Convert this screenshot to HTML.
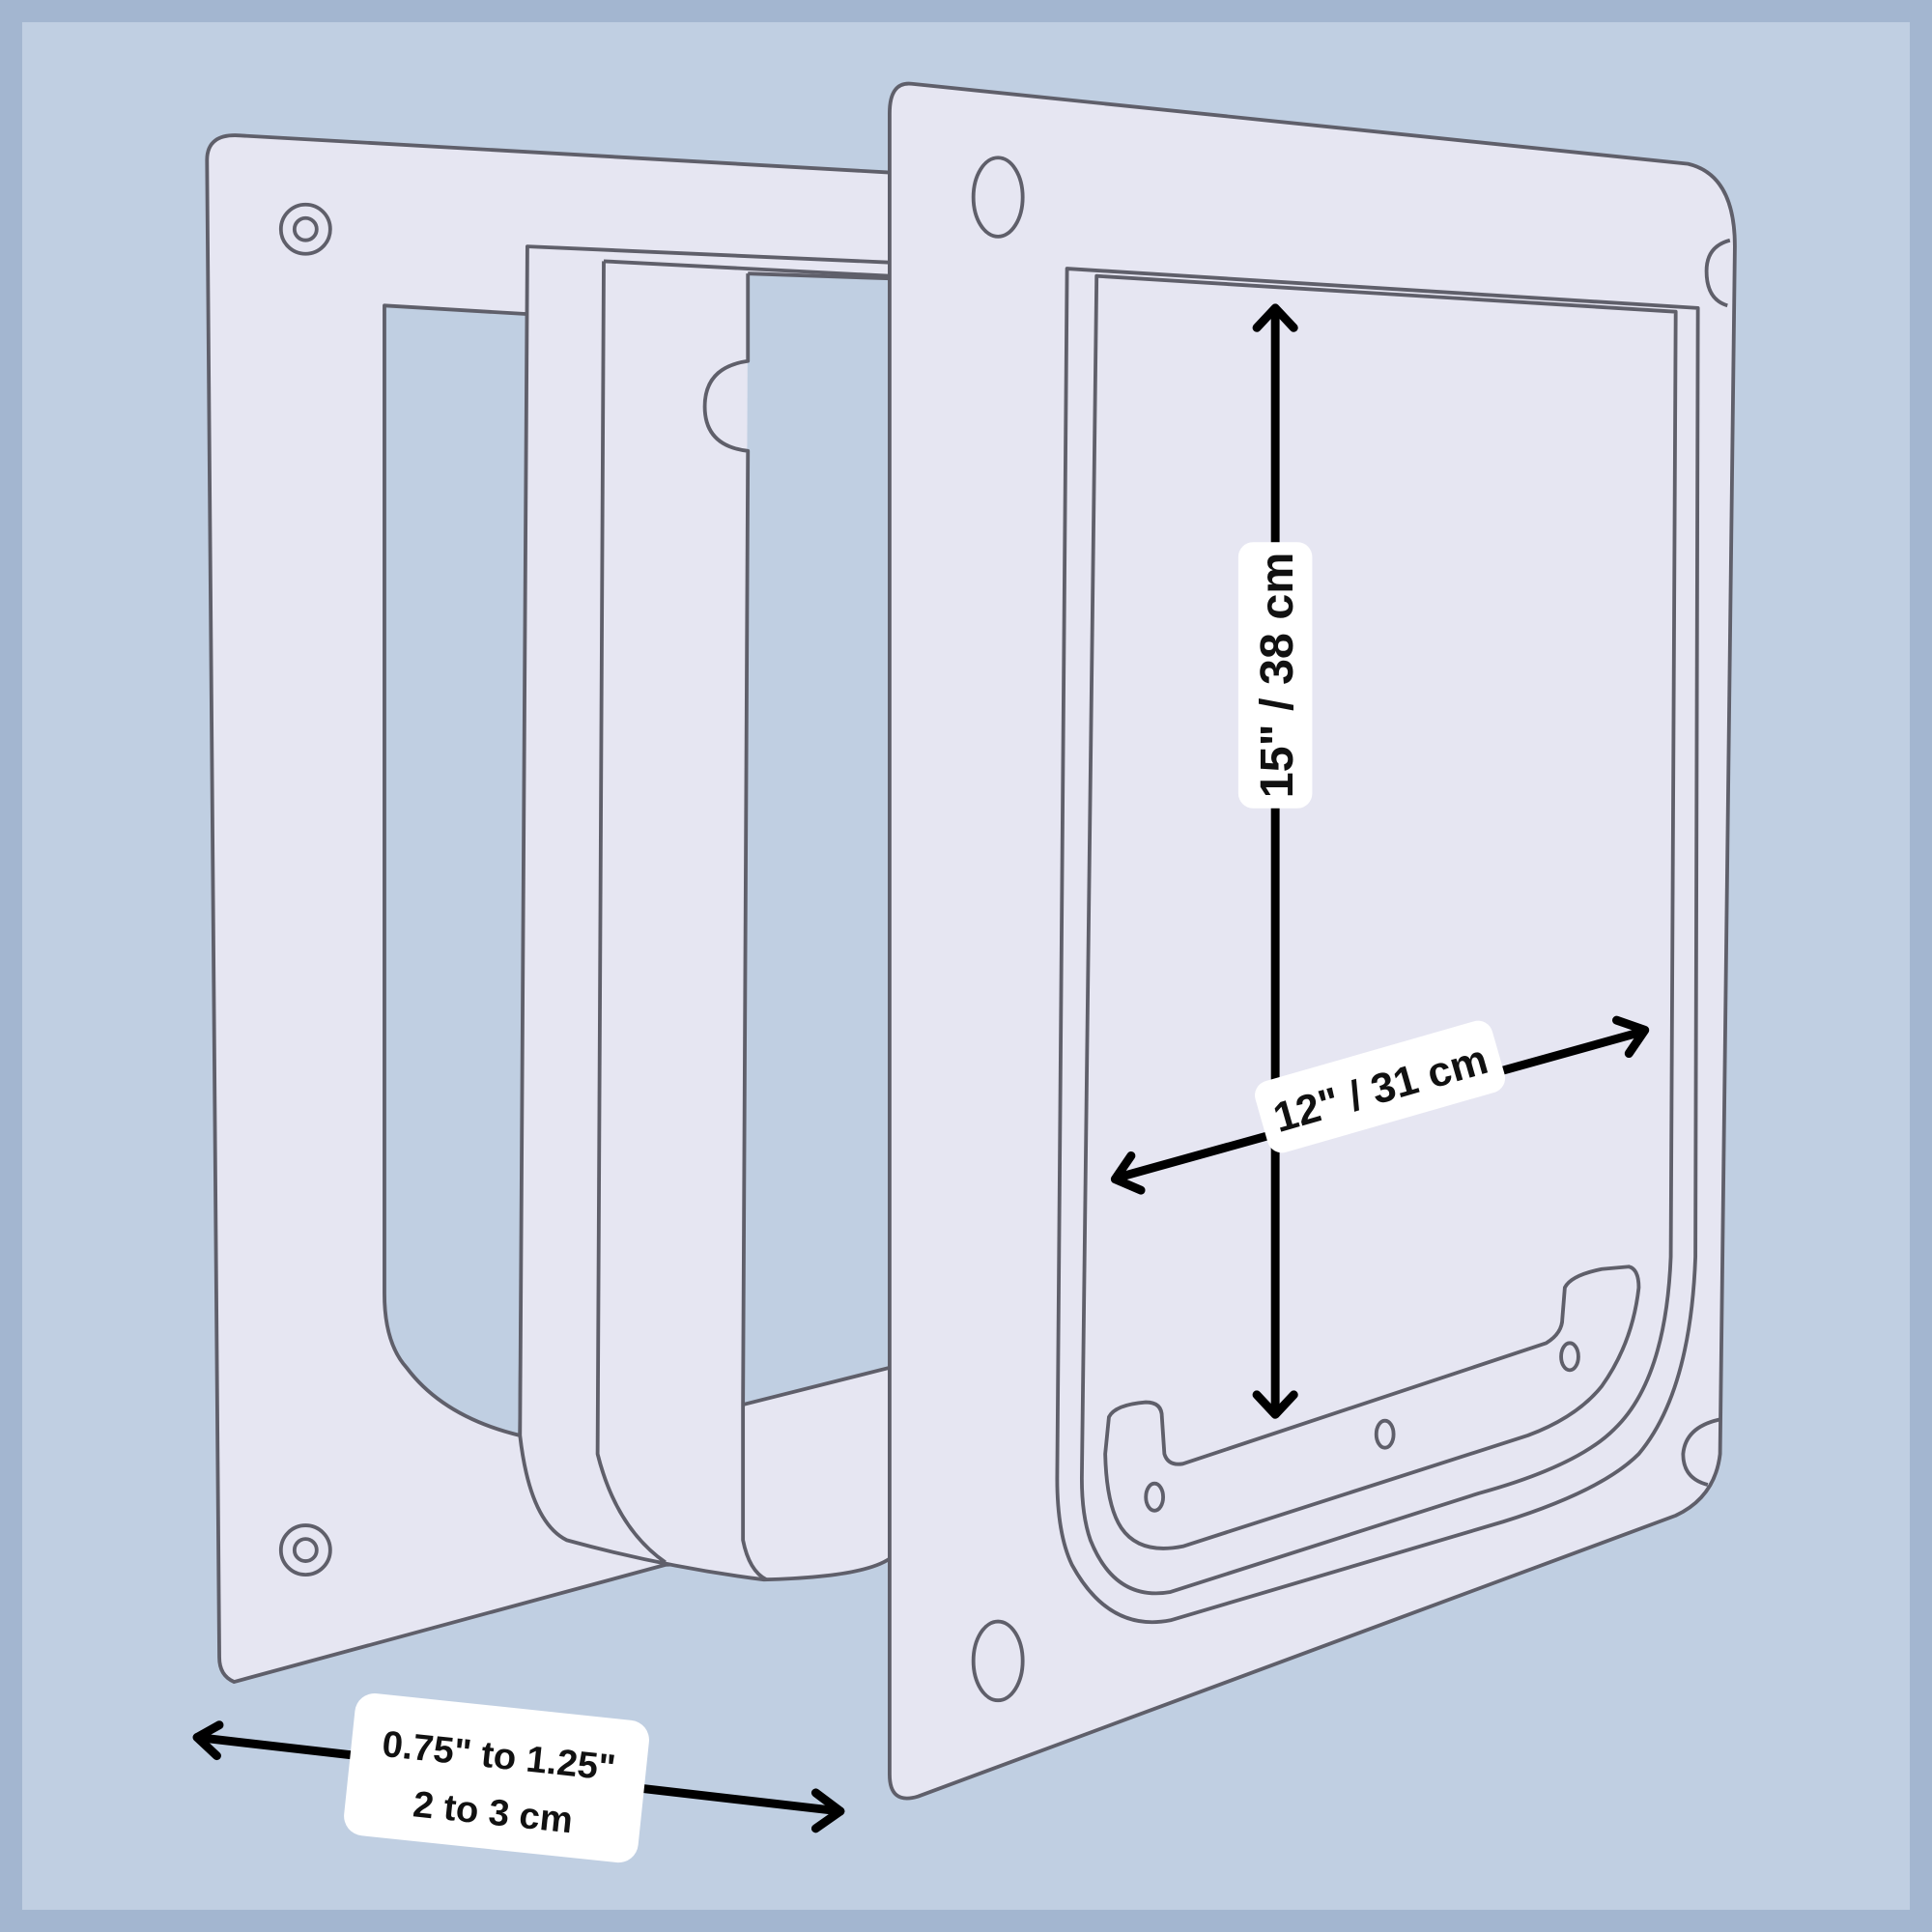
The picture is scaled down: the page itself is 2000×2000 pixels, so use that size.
<!DOCTYPE html>
<html><head><meta charset="utf-8"><style>
html,body{margin:0;padding:0;background:#a3b6d0;}
svg{display:block;}
text{font-family:"Liberation Sans",sans-serif;font-weight:bold;fill:#111;}
</style></head><body>
<svg width="2000" height="2000" viewBox="0 0 1568 1568" xmlns="http://www.w3.org/2000/svg">
<rect x="0" y="0" width="1568" height="1568" fill="#a3b6d0"/>
<rect x="18" y="18" width="1532" height="1532" fill="#c0cfe2"/>
<g stroke="#5f5f6a" stroke-width="3" fill="#e6e6f2" stroke-linejoin="round">
<!-- left plate -->
<path d="M195,110 L722,140 L722,1262 L540,1270 L190,1365 Q178,1360 178,1345 L168,130 Q168,108 195,110 Z"/>
<path d="M312,248 L430,255 L422,1165 Q360,1150 330,1110 Q312,1090 312,1050 Z" fill="#c0cfe2"/>
<circle cx="248" cy="186" r="20"/><circle cx="248" cy="186" r="9"/>
<circle cx="248" cy="1258" r="20"/><circle cx="248" cy="1258" r="9"/>
<!-- tunnel -->
<path d="M428,200 L722,213 L722,1265 Q700,1280 620,1282 Q540,1272 460,1250 Q430,1235 422,1165 Z"/>
<path d="M607,222 L722,226 L722,1110 L603,1140 Z" fill="#c0cfe2" stroke="none"/>
<path d="M490,212 L722,224" fill="none"/>
<path d="M490,212 L485,1180 Q500,1240 540,1268" fill="none"/>
<path d="M607,222 L607,293 Q572,298 572,330 Q572,362 607,366 L603,1140 L603,1250 Q608,1275 622,1282" fill="none"/>
<path d="M607,222 L722,226" fill="none"/>
<path d="M603,1140 L722,1110" fill="none"/>
<!-- right plate -->
<path d="M740,68 L1370,133 Q1408,142 1408,200 L1396,1180 Q1392,1215 1360,1230 L745,1458 Q722,1465 722,1440 L722,92 Q722,66 740,68 Z"/>
<ellipse cx="810" cy="160" rx="20" ry="32"/>
<ellipse cx="810" cy="1348" rx="20" ry="32"/>
<path d="M1404,195 Q1385,200 1385,220 Q1385,243 1402,248" fill="none"/>
<path d="M1396,1152 Q1368,1158 1366,1180 Q1366,1200 1386,1205" fill="none"/>
<!-- inner frame -->
<path d="M866,218 L1378,250 L1376,1020 Q1372,1130 1330,1180 Q1300,1210 1220,1235 L950,1315 Q900,1325 870,1270 Q858,1245 858,1200 Z" fill="#e6e6f2"/>
<path d="M890,224 L1360,253 L1356,1020 Q1352,1120 1310,1160 Q1280,1190 1200,1212 L950,1292 Q905,1300 885,1250 Q878,1230 878,1200 Z" fill="none"/>
<path d="M900,1150 Q905,1140 930,1138 Q943,1138 943,1150 L945,1180 Q948,1190 960,1188 L1255,1090 Q1268,1082 1268,1070 L1270,1045 Q1275,1035 1300,1030 L1322,1028 Q1330,1030 1330,1045 Q1325,1090 1300,1125 Q1280,1150 1240,1165 L960,1255 Q925,1262 910,1240 Q898,1222 897,1180 Z" fill="none"/>
<ellipse cx="937" cy="1215" rx="7" ry="11" fill="none"/>
<ellipse cx="1124" cy="1164" rx="7" ry="11" fill="none"/>
<ellipse cx="1274" cy="1101" rx="7" ry="11" fill="none"/>
</g>
<!-- arrows -->
<g stroke="#000" stroke-width="7" fill="none" stroke-linecap="round" stroke-linejoin="round">
<line x1="1035" y1="252" x2="1035" y2="1145"/>
<path d="M1020,266 L1035,250 L1050,266"/>
<path d="M1020,1132 L1035,1148 L1050,1132"/>
<line x1="906" y1="956" x2="1334" y2="837"/>
<path d="M926,966 L905,957 L918,938"/>
<path d="M1312,828 L1335,836 L1322,855"/>
<line x1="160" y1="1410" x2="682" y2="1470"/>
<path d="M178,1400 L160,1410 L176,1425"/>
<path d="M662,1455 L682,1470 L662,1484"/>
</g>
<!-- labels -->
<g transform="translate(1035,548) rotate(-90)">
<rect x="-108" y="-30" width="216" height="60" rx="12" fill="#fff"/>
<text x="0" y="14" font-size="38" text-anchor="middle">15" / 38 cm</text>
</g>
<g transform="translate(1120,882) rotate(-16)">
<rect x="-100" y="-30" width="200" height="60" rx="12" fill="#fff"/>
<text x="0" y="13" font-size="34" text-anchor="middle">12"  / 31 cm</text>
</g>
<g transform="translate(403,1443) rotate(6)">
<rect x="-120" y="-58" width="240" height="116" rx="16" fill="#fff"/>
<text x="0" y="-8" font-size="30" text-anchor="middle">0.75" to 1.25"</text>
<text x="0" y="38" font-size="30" text-anchor="middle">2 to 3 cm</text>
</g>
</svg>
</body></html>
